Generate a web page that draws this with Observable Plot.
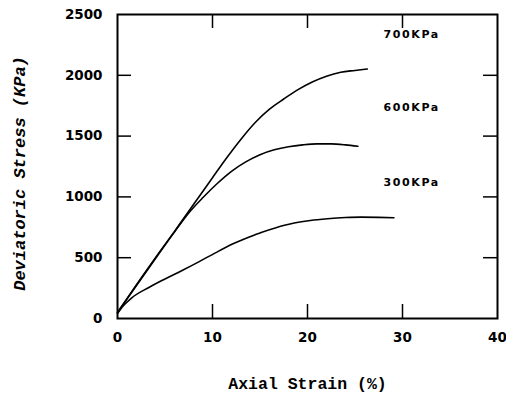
<!DOCTYPE html>
<html>
<head>
<meta charset="utf-8">
<script src="https://cdn.jsdelivr.net/npm/d3@7"></script>
<script src="https://cdn.jsdelivr.net/npm/@observablehq/plot@0.6"></script>
<style>
  html, body { margin: 0; padding: 0; background: #fff; }
</style>
</head>
<body>
<div id="chart"></div>
<script>
// ---- data ----
const strain700 = [0, 2, 4, 6, 8, 10, 11.5, 13, 14.5, 16, 17.5, 19, 20.5, 22, 23.5, 25, 26.3];
const stress700 = [50, 272, 494, 716, 938, 1158, 1322, 1475, 1612, 1722, 1805, 1882, 1945, 1993, 2025, 2040, 2052];

const strain600 = [0, 2, 4, 6, 7.5, 9, 10.5, 12, 13.5, 15, 16.5, 18, 19.5, 21, 22.5, 24, 25.3];
const stress600 = [50, 278, 500, 712, 868, 995, 1110, 1210, 1288, 1347, 1387, 1413, 1428, 1436, 1436, 1428, 1416];

const strain300 = [0, 0.5, 1.5, 3.3, 5, 6.8, 8.6, 10.3, 12.1, 13.8, 15.2, 16.6, 18.6, 20.3, 22.1, 24, 25.6, 27.5, 29.1];
const stress300 = [40, 95, 170, 255, 325, 395, 468, 540, 612, 668, 710, 745, 785, 806, 820, 830, 834, 832, 828];

const seriesNames = ["700KPa", "600KPa", "300KPa"];
const labelStrain = [28, 28, 28];
const labelStress = [2335, 1735, 1120];

const xTicks = [0, 10, 20, 30, 40];
const yTicks = [0, 500, 1000, 1500, 2000, 2500];
const xInner = [10, 20, 30];
const yInner = [500, 1000, 1500, 2000];

const xLabel = "Axial Strain (%)";
const yLabel = "Deviatoric Stress (KPa)";

// ---- build table ----
const rows = [];
[[strain700, stress700, seriesNames[0]], [strain600, stress600, seriesNames[1]], [strain300, stress300, seriesNames[2]]]
  .forEach(([xs, ys, name]) => xs.forEach((x, i) => rows.push({series: name, strain: x, stress: ys[i]})));
const labels = seriesNames.map((n, i) => ({name: n, strain: labelStrain[i], stress: labelStress[i]}));

const W = 506, H = 396, mT = 14, mB = 78, mL = 117, mR = 9;
const plotH = H - mT - mB, plotW = W - mL - mR;
const tk = 14;

const tickFont = {fontFamily: "DejaVu Sans", fontSize: 13.5, fontWeight: "bold"};

const chart = Plot.plot({
  width: W, height: H,
  marginTop: mT, marginBottom: mB, marginLeft: mL, marginRight: mR,
  x: {domain: [0, 40]},
  y: {domain: [0, 2500]},
  style: {background: "#fff", color: "#000"},
  marks: [
    Plot.frame({stroke: "#000", strokeWidth: 2}),
    // inward ticks on all four sides
    Plot.tickX(xInner, {x: d => d, insetTop: plotH - tk, stroke: "#000", strokeWidth: 1.5}),
    Plot.tickX(xInner, {x: d => d, insetBottom: plotH - tk, stroke: "#000", strokeWidth: 1.5}),
    Plot.tickY(yInner, {y: d => d, insetRight: plotW - tk, stroke: "#000", strokeWidth: 1.5}),
    Plot.tickY(yInner, {y: d => d, insetLeft: plotW - tk, stroke: "#000", strokeWidth: 1.5}),
    Plot.axisX({ticks: xTicks, tickSize: 0, tickPadding: 14, label: null, tickFormat: d => String(d), ...tickFont}),
    Plot.axisY({ticks: yTicks, tickSize: 0, tickPadding: 15, label: null, tickFormat: d => String(d), ...tickFont}),
    Plot.line(rows, {x: "strain", y: "stress", z: "series", curve: "monotone-x", stroke: "#000", strokeWidth: 1.6}),
    Plot.text(labels, {x: "strain", y: "stress", text: "name", textAnchor: "start",
      fontFamily: "DejaVu Sans", fontSize: 11, fontWeight: "bold", fill: "#000"}),
    Plot.text([xLabel], {frameAnchor: "bottom", dy: 65, text: d => d, textAnchor: "middle", lineAnchor: "middle",
      fontFamily: "Liberation Mono", fontSize: 16.5, fontWeight: "bold", fill: "#000"}),
    Plot.text([yLabel], {frameAnchor: "left", dx: -98, dy: 7, rotate: -90, text: d => d, textAnchor: "middle", lineAnchor: "middle",
      fontFamily: "Liberation Mono", fontSize: 17, fontWeight: "bold", fontStyle: "italic", fill: "#000"})
  ]
});
document.getElementById("chart").appendChild(chart);
// letter spacing for the small series labels
chart.querySelectorAll("g[aria-label='text']")[0].setAttribute("letter-spacing", "1.6");
</script>
</body>
</html>
